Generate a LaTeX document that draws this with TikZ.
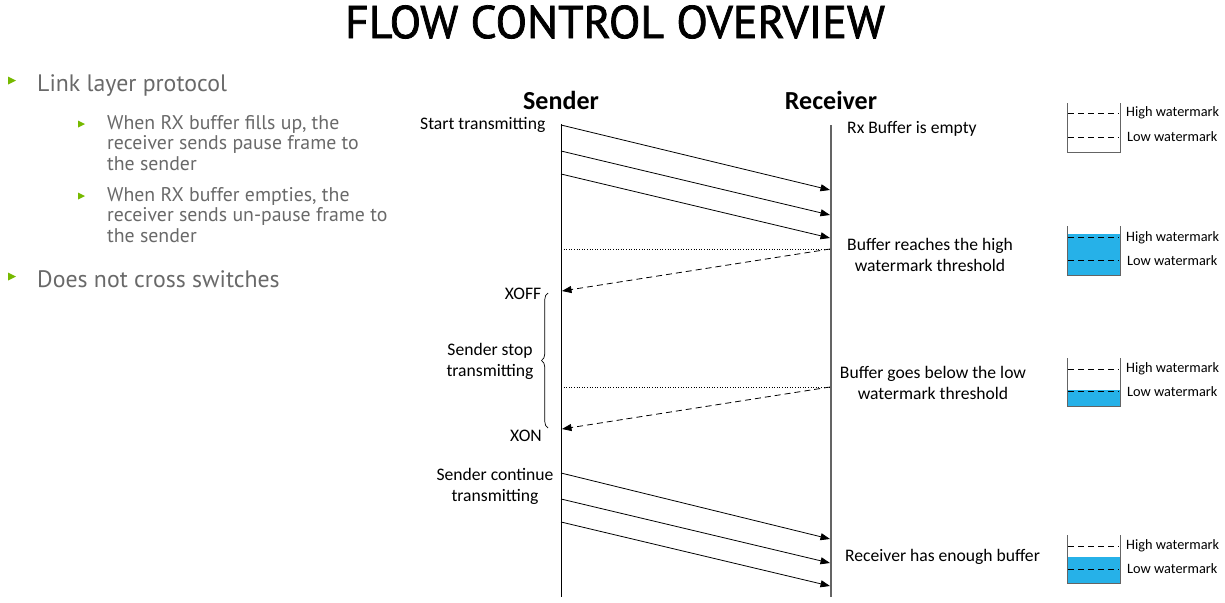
\documentclass[tikz,border=0pt]{standalone}
\usepackage{fontspec}
\setmainfont{Carlito}
\newfontfamily\titlefont{PT Sans}
\newfontfamily\headfont[FakeBold=1.6]{PT Sans}
\usetikzlibrary{arrows.meta,decorations.pathreplacing}
\definecolor{nvgreen}{RGB}{118,185,0}
\definecolor{bullgray}{RGB}{105,105,105}
\definecolor{bufblue}{RGB}{38,177,232}
\definecolor{rxgray}{RGB}{100,100,100}
\begin{document}
\begin{tikzpicture}[x=1pt,y=-1pt,
  msg/.style={-{Triangle[length=9.5pt,width=7pt]},line width=0.8pt},
  ctl/.style={msg,dash pattern=on 6pt off 4pt},
  guide/.style={dotted,line width=0.6pt},
  lbl/.style={font=\fontsize{17.6}{21}\selectfont,inner sep=0pt,align=center},
  wm/.style={font=\fontsize{14.3}{16}\selectfont,inner sep=0pt,anchor=west},
  wmline/.style={dash pattern=on 6pt off 4pt,line width=0.9pt},
  box/.style={line width=0.9pt,draw=rxgray},
  bull/.style={font=\titlefont\fontsize{23.8}{26}\selectfont,text=bullgray,anchor=base west,inner sep=0pt},
  subb/.style={font=\titlefont\fontsize{19.8}{20.5}\selectfont,text=bullgray,anchor=north west,inner sep=0pt,align=left},
  tri/.style={fill=nvgreen}
]
\useasboundingbox (0,0) rectangle (1225,602);

% title
\node[font=\headfont\fontsize{46}{50}\selectfont,inner sep=0pt] (title) at (615,22) {FLOW CONTROL OVERVIEW};

% bullets
\fill[tri] (8,76.5) -- (16,80.5) -- (8,84.5) -- cycle;
\node[bull] (b1) at (37,91) {Link layer protocol};
\fill[tri] (78,120.5) -- (85,124) -- (78,127.5) -- cycle;
\node[subb] (b2) at (107,115) {When RX buffer fills up, the\\receiver sends pause frame to\\the sender};
\fill[tri] (78,192.5) -- (85,196) -- (78,199.5) -- cycle;
\node[subb] (b3) at (107,187) {When RX buffer empties, the\\receiver sends un-pause frame to\\the sender};
\fill[tri] (8,272.5) -- (16,276.5) -- (8,280.5) -- cycle;
\node[bull] (b4) at (37,287) {Does not cross switches};

% lifelines
\node[font=\bfseries\fontsize{26}{30}\selectfont,inner sep=0pt] (snd) at (561,100) {Sender};
\node[font=\bfseries\fontsize{26}{30}\selectfont,inner sep=0pt] (rcv) at (831,100) {Receiver};
\coordinate (stop) at (561,124);
\coordinate (sbot) at (561,597);
\coordinate (rtop) at (831,125);
\coordinate (rbot) at (831,597);
\draw[line width=0.9pt] (stop) -- (sbot);
\draw[rxgray,line width=1.6pt] (rtop) -- (rbot);

% data frames 1
\coordinate (a1) at (561,125); \coordinate (e1) at (830,190);
\coordinate (a2) at (561,151); \coordinate (e2) at (830,215);
\coordinate (a3) at (561,174); \coordinate (e3) at (830,238);
\draw[msg] (a1) -- (e1);
\draw[msg] (a2) -- (e2);
\draw[msg] (a3) -- (e3);

% XOFF
\coordinate (h1) at (561,249); \coordinate (r1) at (830,249);
\coordinate (x1) at (562,291);
\draw[guide] (h1) -- (r1);
\draw[ctl] (r1) -- (x1);

% XON
\coordinate (h2) at (561,387); \coordinate (r2) at (830,387);
\coordinate (x2) at (562,429);
\draw[guide] (h2) -- (r2);
\draw[ctl] (r2) -- (x2);

% data frames 2
\coordinate (a4) at (561,473); \coordinate (e4) at (830,539);
\coordinate (a5) at (561,499); \coordinate (e5) at (830,563);
\coordinate (a6) at (561,522); \coordinate (e6) at (830,586);
\draw[msg] (a4) -- (e4);
\draw[msg] (a5) -- (e5);
\draw[msg] (a6) -- (e6);

% brace
\coordinate (bb) at (548,428);
\coordinate (bt) at (548,293);
\draw[line width=0.7pt,decorate,decoration={brace,amplitude=6.5pt}] (bb) -- (bt);

% sender-side labels
\node[lbl,anchor=west] (st) at (420,125) {Start transmitting};
\node[lbl] (xoff) at (523,294) {XOFF};
\node[lbl] (xon) at (526,436) {XON};
\node[lbl] (sst) at (490,361) {Sender stop\\transmitting};
\node[lbl] (sct) at (495,486) {Sender continue\\transmitting};

% receiver-side labels
\node[lbl,anchor=west] (re) at (847,129) {Rx Buffer is empty};
\node[lbl] (rh) at (930,255) {Buffer reaches the high\\watermark threshold};
\node[lbl] (rl) at (933,383) {Buffer goes below the low\\watermark threshold};
\node[lbl,anchor=west] (rn) at (845,557) {Receiver has enough buffer};

% buffers
% 1 empty
\draw[box] (1067,103) -- (1067,152) -- (1120,152) -- (1120,103);
\draw[wmline] (1068,113) -- (1119,113);
\draw[wmline] (1068,137) -- (1119,137);
\node[wm] (w1h) at (1126,113) {High watermark};
\node[wm] (w1l) at (1127,137) {Low watermark};
% 2 full
\fill[bufblue] (1067,234) rectangle (1120,275);
\draw[box] (1067,226) -- (1067,275) -- (1120,275) -- (1120,226);
\draw[wmline] (1068,237) -- (1119,237);
\draw[wmline] (1068,260) -- (1119,260);
\node[wm] (w2h) at (1126,238) {High watermark};
\node[wm] (w2l) at (1127,261) {Low watermark};
% 3 low
\fill[bufblue] (1067,390) rectangle (1120,406);
\draw[box] (1067,358) -- (1067,406) -- (1120,406) -- (1120,358);
\draw[wmline] (1068,369) -- (1119,369);
\draw[wmline] (1068,391) -- (1119,391);
\node[wm] (w3h) at (1126,369) {High watermark};
\node[wm] (w3l) at (1127,392) {Low watermark};
% 4 medium
\fill[bufblue] (1067,557) rectangle (1120,583);
\draw[box] (1067,535) -- (1067,583) -- (1120,583) -- (1120,535);
\draw[wmline] (1068,546) -- (1119,546);
\draw[wmline] (1068,569) -- (1119,569);
\node[wm] (w4h) at (1126,546) {High watermark};
\node[wm] (w4l) at (1127,569) {Low watermark};
\end{tikzpicture}
\end{document}
